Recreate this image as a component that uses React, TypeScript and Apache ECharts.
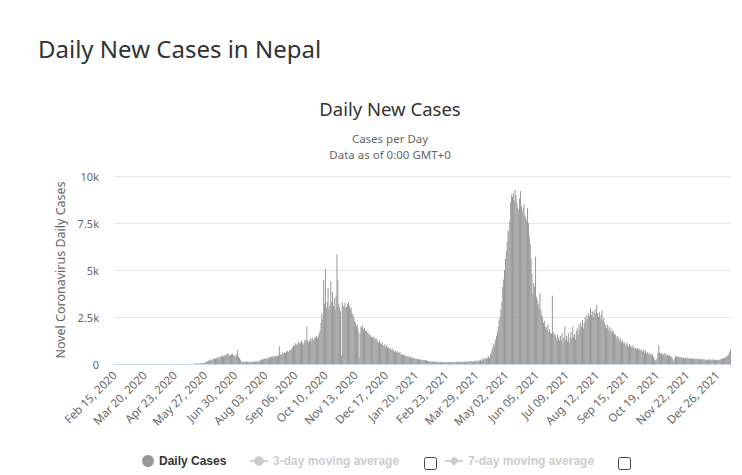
import React, { useEffect, useRef } from 'react';
import * as echarts from 'echarts';

// Daily new cases, Nepal
const early2020 = [
  0, 0, 0, 0, 0, 0, 0, 0, 0, 0,
  0, 0, 0, 0, 0, 0, 0, 0, 0, 0,
  0, 0, 0, 0, 0, 0, 0, 0, 0, 0,
  0, 0, 0, 0, 0, 0, 0, 0, 0, 1,
  0, 1, 0, 1, 2, 0, 0, 0,
];
const apr2020 = [0, 1, 0, 0, 1, 0, 0, 0, 0, 0, 0, 0, 1, 2, 0, 2, 1, 0, 12, 0, 2, 0, 0, 3, 1, 0, 2, 5, 3, 2];
const may2020 = [2, 0, 1, 0, 16, 3, 3, 10, 4, 10, 1, 11, 0, 28, 28, 33, 25, 35, 0, 25, 52, 38, 50, 48, 67, 98, 120, 150, 170, 200, 238];
const jun2020 = [220, 190, 250, 280, 300, 270, 320, 340, 290, 360, 400, 380, 420, 450, 390, 430, 500, 460, 520, 580, 490, 440, 470, 510, 560, 480, 420, 460, 400, 520];
const jul2020 = [730, 380, 300, 220, 150, 120, 100, 130, 110, 90, 140, 120, 100, 110, 90, 130, 115, 95, 120, 140, 105, 125, 150, 110, 160, 180, 200, 230, 260, 240, 280];
const aug2020 = [280, 300, 250, 330, 310, 360, 340, 380, 420, 390, 360, 410, 450, 430, 400, 470, 950, 520, 480, 560, 600, 540, 620, 580, 650, 700, 620, 680, 760, 720, 800];
const sep2020 = [880, 1000, 950, 1100, 1050, 980, 1120, 1200, 1080, 1150, 1250, 1100, 1020, 1180, 1300, 1220, 2000, 1280, 1150, 1240, 1350, 1200, 1400, 1320, 1250, 1380, 1450, 1500, 1350, 1480];
const oct2020 = [1650, 1800, 2200, 2700, 2400, 4470, 3200, 5070, 3000, 3300, 4050, 2900, 3100, 4400, 3300, 3830, 3100, 3500, 2900, 3600, 5840, 4500, 3200, 3000, 2800, 450, 3300, 3100, 3000, 3250, 3000];
const nov2020 = [3050, 3200, 3300, 3100, 2900, 3000, 2700, 2600, 2500, 2300, 2200, 2000, 2100, 1800, 360, 1600, 2000, 1900, 2050, 1850, 1900, 1750, 1800, 1650, 1700, 1550, 1600, 1500, 1450, 1400];
const dec2020 = [1450, 1300, 1400, 1250, 1350, 1200, 1150, 1250, 1100, 1050, 1150, 1000, 950, 1050, 900, 1000, 850, 900, 800, 850, 780, 750, 820, 700, 650, 720, 600, 680, 620, 580, 640];
const jan2021 = [550, 500, 480, 520, 450, 420, 460, 380, 400, 350, 420, 330, 360, 300, 340, 280, 310, 260, 290, 240, 270, 220, 250, 210, 230, 200, 220, 180, 210, 190, 170];
const feb2021 = [160, 140, 150, 120, 130, 110, 140, 100, 120, 90, 130, 110, 80, 100, 120, 90, 110, 100, 85, 95, 120, 100, 80, 110, 95, 105, 90];
const mar2021 = [80, 90, 110, 100, 70, 120, 95, 130, 110, 100, 140, 90, 120, 105, 150, 80, 130, 110, 160, 100, 140, 120, 170, 110, 150, 130, 180, 140, 120, 200, 160];
const apr2021 = [180, 220, 150, 260, 210, 300, 280, 320, 260, 350, 400, 330, 520, 600, 780, 900, 1100, 1000, 1300, 1500, 1700, 2000, 2350, 2500, 2900, 3300, 4100, 4500, 5000, 5600];
const may2021 = [6000, 6500, 7100, 7000, 7600, 8600, 9000, 8900, 9100, 8700, 9260, 9000, 8600, 8300, 8200, 8800, 9200, 8400, 8100, 8300, 8500, 7900, 7800, 7600, 8280, 7500, 6800, 6400, 5600, 4800, 3760];
const jun2021 = [4300, 4100, 5700, 3580, 3400, 3200, 3000, 3760, 2900, 2600, 2500, 2200, 2300, 2000, 1950, 1800, 2100, 1700, 1850, 1650, 1600, 3630, 1700, 1500, 1600, 1450, 1300, 1550, 1400, 1250];
const jul2021 = [1500, 1250, 1650, 1100, 1400, 2000, 1300, 1500, 1200, 1650, 1100, 1400, 1700, 1350, 1980, 1450, 1600, 1300, 1750, 1900, 1600, 2100, 1850, 2200, 2000, 2340, 1900, 2200, 2500, 2300, 2600];
const aug2021 = [2400, 2700, 2550, 2970, 2600, 2800, 2500, 2750, 2900, 2650, 3150, 2700, 2500, 2750, 2400, 2600, 2850, 2300, 2450, 2200, 2050, 1900, 2100, 1800, 2000, 1750, 1900, 1650, 1800, 1700, 1600];
const sep2021 = [1550, 1400, 1500, 1300, 1450, 1200, 1350, 1150, 1250, 1100, 1200, 1050, 950, 1150, 1000, 900, 1050, 950, 880, 1000, 850, 920, 800, 870, 780, 850, 750, 820, 700, 780];
const oct2021 = [720, 650, 780, 600, 700, 560, 640, 520, 600, 480, 560, 450, 520, 380, 250, 180, 200, 300, 600, 1000, 620, 550, 580, 500, 540, 480, 600, 520, 450, 500, 430];
const nov2021 = [480, 420, 400, 350, 220, 120, 300, 380, 420, 360, 400, 340, 380, 320, 360, 300, 350, 280, 330, 300, 340, 290, 320, 270, 300, 260, 310, 280, 290, 250];
const dec2021 = [280, 240, 300, 260, 220, 280, 250, 230, 270, 210, 250, 190, 240, 200, 230, 260, 210, 190, 240, 220, 250, 200, 230, 180, 210, 240, 200, 220, 260, 250];
const jan2022 = [280, 320, 300, 350, 380, 420, 450, 520, 650, 800];

const dailyCases: number[] = [
  ...early2020, ...apr2020, ...may2020, ...jun2020, ...jul2020, ...aug2020, ...sep2020,
  ...oct2020, ...nov2020, ...dec2020, ...jan2021, ...feb2021, ...mar2021, ...apr2021,
  ...may2021, ...jun2021, ...jul2021, ...aug2021, ...sep2021, ...oct2021, ...nov2021,
  ...dec2021, ...jan2022,
];

const MONTHS = ['Jan', 'Feb', 'Mar', 'Apr', 'May', 'Jun', 'Jul', 'Aug', 'Sep', 'Oct', 'Nov', 'Dec'];
const START = Date.UTC(2020, 1, 15);
const categories: string[] = dailyCases.map((_, i) => {
  const d = new Date(START + i * 86400000);
  return `${MONTHS[d.getUTCMonth()]} ${String(d.getUTCDate()).padStart(2, '0')}, ${d.getUTCFullYear()}`;
});

const yTicks = [0, 2500, 5000, 7500, 10000];
const yTickLabels = ['0', '2.5k', '5k', '7.5k', '10k'];

const pageTitle = 'Daily New Cases in Nepal';
const chartTitle = 'Daily New Cases';
const subtitleLines = ['Cases per Day', 'Data as of 0:00 GMT+0'];
const yAxisName = 'Novel Coronavirus Daily Cases';
const seriesNames = ['Daily Cases', '3-day moving average', '7-day moving average'];

const FONT = "'Noto Sans', sans-serif";
const LEGEND_FONT = "'Liberation Sans', Arial, sans-serif";

export default function App() {
  const ref = useRef<HTMLDivElement>(null);
  useEffect(() => {
    if (!ref.current) return;
    const chart = echarts.init(ref.current, undefined, { renderer: 'svg' });
    const legendText = { fontFamily: LEGEND_FONT, fontSize: 12, fontWeight: 'bold' as const, color: '#333' };
    chart.setOption({
      animation: false,
      backgroundColor: '#fff',
      title: [
        { text: pageTitle, left: 38, top: 36, padding: 0, textStyle: { fontFamily: FONT, fontSize: 24, fontWeight: 'normal', color: '#333' } },
        { text: chartTitle, left: 390, textAlign: 'center', top: 98.5, padding: 0, textStyle: { fontFamily: FONT, fontSize: 18.5, fontWeight: 'normal', color: '#333' } },
        { text: subtitleLines.join('\n'), left: 390, textAlign: 'center', top: 130.5, padding: 0, textStyle: { fontFamily: FONT, fontSize: 11.5, lineHeight: 15.7, fontWeight: 'normal', color: '#666', align: 'center' } },
      ],
      legend: [
        { data: [seriesNames[0]], left: 142, top: 455, padding: 0, icon: 'circle', itemWidth: 12, itemHeight: 12, textStyle: legendText },
        { data: [seriesNames[1]], left: 249, top: 455, padding: 0, itemWidth: 18, itemHeight: 12, inactiveColor: '#ccc', textStyle: legendText, selected: { [seriesNames[1]]: false } },
        { data: [seriesNames[2]], left: 444, top: 455, padding: 0, itemWidth: 18, itemHeight: 12, inactiveColor: '#ccc', textStyle: legendText, selected: { [seriesNames[2]]: false } },
      ],
      grid: { left: 114, right: 11, top: 176, bottom: 111, containLabel: false },
      xAxis: {
        type: 'category',
        data: categories,
        boundaryGap: true,
        axisTick: { show: false },
        axisLine: { show: true, lineStyle: { color: '#ccd6eb', width: 1 } },
        axisLabel: {
          interval: 33,
          rotate: 45,
          margin: 9,
          fontFamily: FONT,
          fontSize: 11.5,
          color: '#666666',
        },
      },
      yAxis: {
        type: 'value',
        min: 0,
        max: 10000,
        interval: 2500,
        name: yAxisName,
        nameLocation: 'middle',
        nameGap: 46,
        nameTextStyle: { fontFamily: FONT, fontSize: 12.5, color: '#666666' },
        axisLine: { show: false },
        axisTick: { show: false },
        splitLine: { lineStyle: { color: '#e6e6e6', width: 1 } },
        axisLabel: {
          margin: 15,
          fontFamily: FONT,
          fontSize: 11,
          color: '#666666',
          formatter: (v: number) => {
            const i = yTicks.indexOf(v);
            return i >= 0 ? yTickLabels[i] : String(v);
          },
        },
      },
      series: [
        {
          name: seriesNames[0],
          type: 'bar',
          data: dailyCases,
          itemStyle: { color: '#999999' },
          barCategoryGap: '0%',
        },
        { name: seriesNames[1], type: 'line', data: [], symbol: 'circle', symbolSize: 6, itemStyle: { color: '#ccc' }, lineStyle: { color: '#ccc', width: 2 } },
        { name: seriesNames[2], type: 'line', data: [], symbol: 'diamond', symbolSize: 7, itemStyle: { color: '#ccc' }, lineStyle: { color: '#ccc', width: 2 } },
      ],
      graphic: [
        { type: 'rect', shape: { x: 424.5, y: 457.5, width: 12, height: 12, r: 2 }, style: { fill: '#fff', stroke: '#444', lineWidth: 1 } },
        { type: 'rect', shape: { x: 618.5, y: 457.5, width: 12, height: 12, r: 2 }, style: { fill: '#fff', stroke: '#444', lineWidth: 1 } },
      ],
    });
    return () => chart.dispose();
  }, []);
  return <div ref={ref} style={{ position: 'fixed', left: 0, top: 0, width: 742, height: 475 }} />;
}
